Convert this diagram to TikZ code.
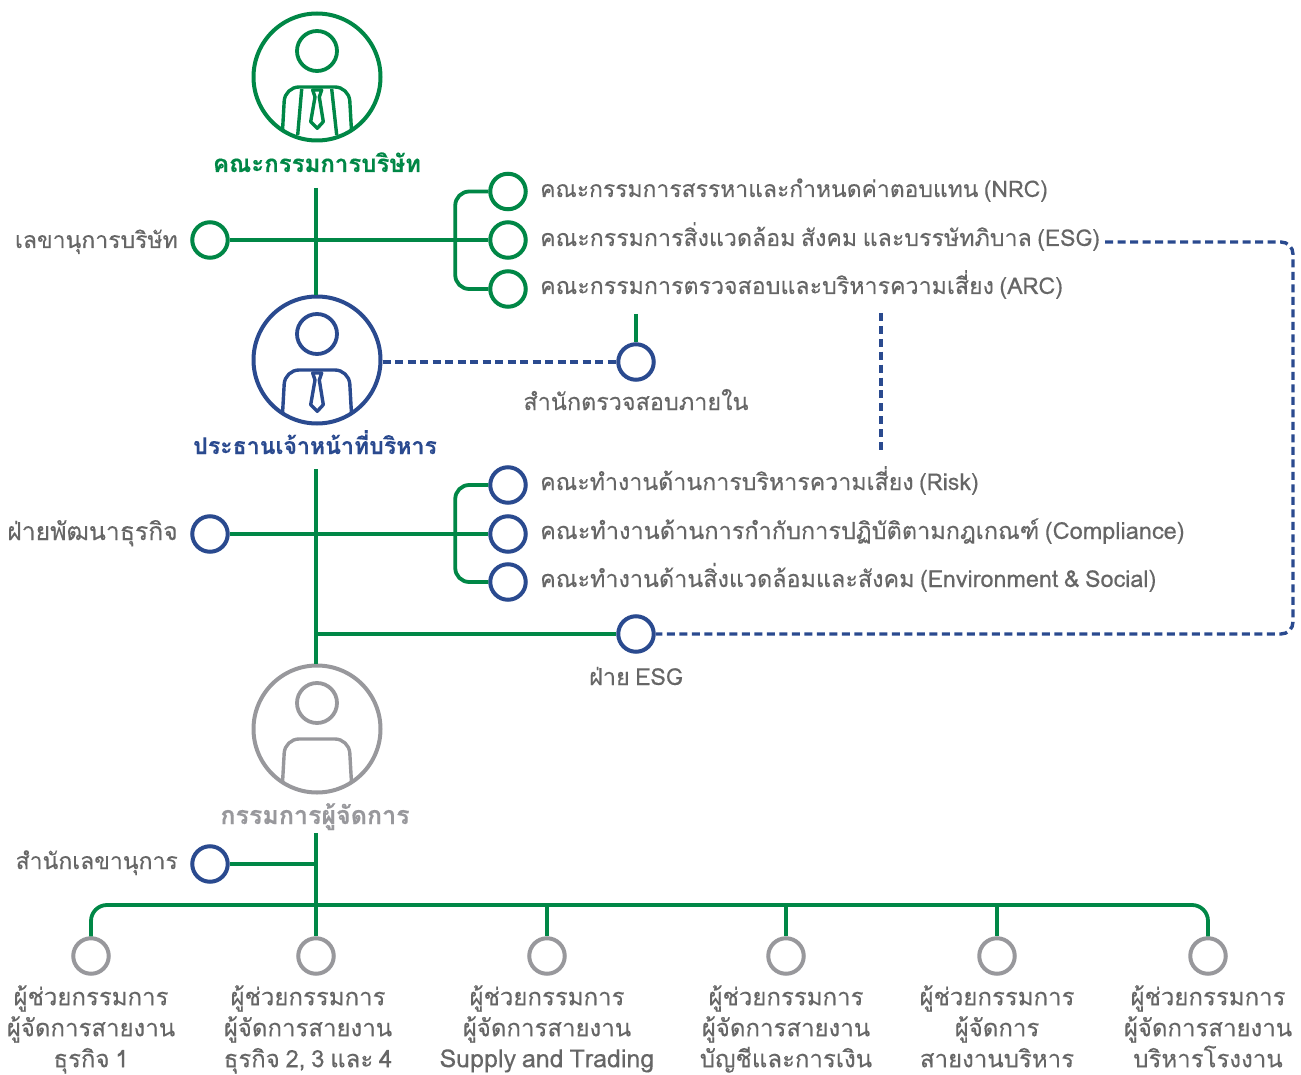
\documentclass[tikz,border=0pt]{standalone}
\usepackage{fontspec}
\setmainfont[Script=Thai,WordSpace=0.7,FakeBold=0.25,BoldFeatures={FakeBold=0.3}]{Loma}
\usepackage{tikz}
\usetikzlibrary{calc,positioning}
\definecolor{boardgreen}{RGB}{0,135,70}
\definecolor{ceoblue}{RGB}{42,74,143}
\definecolor{mdgrey}{RGB}{152,152,156}
\definecolor{textgrey}{RGB}{102,102,102}

% head, shoulders and the big ring of one person
\newcommand{\personIcon}[4]{
\node[bigring,draw=#2] (#1) at (317,#3) {};
\begin{scope}[shift={(317,#3)},draw=#2,line width=3.4pt,line join=round]
\draw[line width=3.8pt] (0,-26) circle (20);
\draw[rounded corners=14pt] (-34.5,54) -- (-32,10) -- (32,10) -- (34.5,54);
#4
\end{scope}}
\newcommand{\tieShape}{\draw (-4.3,13) -- (4.7,13) -- (2.3,20) -- (6.3,44.7) -- (0.3,51.3) -- (-6.3,44.7) -- (-2,20) -- cycle;}
\newcommand{\suitShape}{\draw (-15.3,12) -- (-19.3,58); \draw (14.7,12) -- (19.7,58);}

\begin{document}
\begin{tikzpicture}[x=1pt,y=-1pt]

\tikzset{bigring/.style={shape=circle,line width=4pt,inner sep=0pt,minimum size=127pt},
greendot/.style={shape=circle,draw=boardgreen,line width=4pt,inner sep=0pt,minimum size=35.5pt},
bluedot/.style={shape=circle,draw=ceoblue,line width=4pt,inner sep=0pt,minimum size=35.5pt},
greydot/.style={shape=circle,draw=mdgrey,line width=4pt,inner sep=0pt,minimum size=35.5pt},
trunk/.style={draw=boardgreen,line width=3.8pt},
dashline/.style={draw=ceoblue,line width=3.4pt,dash pattern=on 8pt off 4.5pt},
sidetext/.style={font=\fontsize{23.2}{28}\selectfont,text=textgrey,inner sep=0pt,anchor=base west},
lefttext/.style={font=\fontsize{23}{28}\selectfont,text=textgrey,inner sep=0pt,anchor=base east},
midtext/.style={font=\fontsize{23.4}{28}\selectfont,text=textgrey,inner sep=0pt,anchor=base},
rolelabel/.style={font=\fontsize{24}{28}\selectfont\bfseries,inner sep=0pt,anchor=base},
asstext/.style={font=\fontsize{24}{31}\selectfont,text=textgrey,inner sep=0pt,align=center,anchor=north}}

\useasboundingbox (0,0) rectangle (1301,1075);

% People
\personIcon{board}{boardgreen}{77}{\tieShape \suitShape}
\personIcon{ceo}{ceoblue}{360}{\tieShape}
\personIcon{md}{mdgrey}{729}{}
\node[rolelabel,text=boardgreen] (boardLabel) at (317,172) {คณะกรรมการบริษัท};
\node[rolelabel,text=ceoblue,font=\fontsize{23.1}{28}\selectfont\bfseries] (ceoLabel) at (315,454) {ประธานเจ้าหน้าที่บริหาร};
\node[rolelabel,text=mdgrey,font=\fontsize{25}{28}\selectfont\bfseries] (mdLabel) at (315,824) {กรรมการผู้จัดการ};

% Board side
\node[greendot] (secDot) at (210,240) {};
\node[lefttext] (secLabel) at (178,248) {เลขานุการบริษัท};
\node[greendot] (nrcDot) at (508,191.5) {};
\node[greendot] (esgDot) at (508,240) {};
\node[greendot] (arcDot) at (508,289) {};
\node[sidetext,font=\fontsize{22.9}{28}\selectfont] (nrcLabel) at (540,197) {คณะกรรมการสรรหาและกำหนดค่าตอบแทน (NRC)};
\node[sidetext] (esgLabel) at (540,246) {คณะกรรมการสิ่งแวดล้อม สังคม และบรรษัทภิบาล (ESG)};
\node[sidetext] (arcLabel) at (540,294) {คณะกรรมการตรวจสอบและบริหารความเสี่ยง (ARC)};

% Audit
\node[bluedot] (auditDot) at (636,362) {};
\node[midtext] (auditLabel) at (636,410) {สำนักตรวจสอบภายใน};

% CEO side
\node[bluedot] (devDot) at (210,534) {};
\node[lefttext,font=\fontsize{24.8}{28}\selectfont] (devLabel) at (178,540) {ฝ่ายพัฒนาธุรกิจ};
\node[bluedot] (riskDot) at (508,485) {};
\node[bluedot] (compDot) at (508,534) {};
\node[bluedot] (envDot) at (508,582) {};
\node[sidetext] (riskLabel) at (540,490) {คณะทำงานด้านการบริหารความเสี่ยง (Risk)};
\node[sidetext,font=\fontsize{23.5}{28}\selectfont] (compLabel) at (540,539) {คณะทำงานด้านการกำกับการปฏิบัติตามกฎเกณฑ์ (Compliance)};
\node[sidetext,font=\fontsize{23.35}{28}\selectfont] (envLabel) at (540,587) {คณะทำงานด้านสิ่งแวดล้อมและสังคม (Environment \& Social)};
\node[bluedot] (esgUnit) at (636,634) {};
\node[midtext] (esgUnitLabel) at (636,685) {ฝ่าย ESG};

% MD side
\node[bluedot] (mdSecDot) at (210,864) {};
\node[lefttext] (mdSecLabel) at (178,869) {สำนักเลขานุการ};

% Assistants
\foreach \i/\x in {1/91,2/316,3/547,4/786,5/997,6/1208} \node[greydot] (asst\i) at (\x,956) {};
\node[asstext] (asstLabelA) at (91,985) {ผู้ช่วยกรรมการ\\ผู้จัดการสายงาน\\ธุรกิจ 1};
\node[asstext] (asstLabelB) at (308,985) {ผู้ช่วยกรรมการ\\ผู้จัดการสายงาน\\ธุรกิจ 2, 3 และ 4};
\node[asstext] (asstLabelC) at (547,985) {ผู้ช่วยกรรมการ\\ผู้จัดการสายงาน\\{\fontsize{25}{31}\selectfont Supply and Trading}};
\node[asstext] (asstLabelD) at (786,985) {ผู้ช่วยกรรมการ\\ผู้จัดการสายงาน\\บัญชีและการเงิน};
\node[asstext] (asstLabelE) at (997,985) {ผู้ช่วยกรรมการ\\ผู้จัดการ\\สายงานบริหาร};
\node[asstext] (asstLabelF) at (1208,985) {ผู้ช่วยกรรมการ\\ผู้จัดการสายงาน\\บริหารโรงงาน};

% Free line ends
\coordinate (boardFoot) at (316,188);
\coordinate (ceoTop) at (316,295);
\coordinate (ceoFoot) at (316,469);
\coordinate (mdTop) at (316,664);
\coordinate (mdFoot) at (316,833);
\coordinate (treeJoint) at (316,905);
\coordinate (auditTop) at (636,314);
\coordinate (esgStart) at (1105,242);
\coordinate (esgCornerA) at (1293,242);
\coordinate (esgCornerB) at (1293,634);
\coordinate (arcDash) at (881,313);
\coordinate (riskDash) at (881,450);

% Edges
\draw[trunk] (boardFoot) -- (ceoTop);
\draw[trunk] (secDot) -- (esgDot);
\draw[trunk,rounded corners=14pt] (nrcDot.west) -| ($(esgDot.west)+(-33,0)$) |- (arcDot.west);
\draw[trunk] (ceoFoot) -- (mdTop);
\draw[trunk] (devDot) -- (compDot);
\draw[trunk,rounded corners=14pt] (riskDot.west) -| ($(compDot.west)+(-33,0)$) |- (envDot.west);
\draw[trunk] (316,634) -- (esgUnit);
\draw[trunk] (auditTop) -- (auditDot);
\draw[trunk] (mdSecDot) -- (316,864);
\draw[trunk] (mdFoot) -- (asst2.north);
\draw[trunk,rounded corners=16pt] (asst1.north) |- (treeJoint) -| (asst6.north);
\foreach \i in {3,4,5} \draw[trunk] (asst\i.north |- treeJoint) -- (asst\i.north);

% Dashes
\draw[dashline] (ceo.east |- auditDot) -- (auditDot);
\draw[dashline,dash pattern=on 8pt off 4.9pt] (arcDash) -- (riskDash);
\draw[dashline,rounded corners=12pt] (esgStart) -- (esgCornerA) -- (esgCornerB) -- (esgUnit);

\end{tikzpicture}
\end{document}
